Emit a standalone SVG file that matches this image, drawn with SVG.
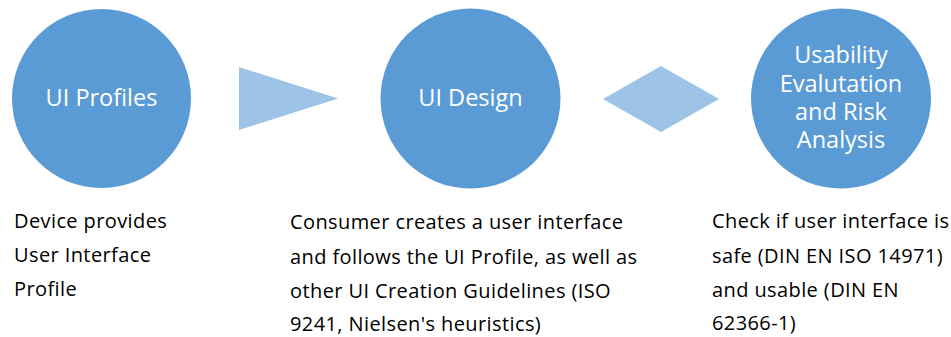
<svg xmlns="http://www.w3.org/2000/svg" width="951" height="337" viewBox="0 0 951 337">
<style>
.c{fill:#5B9BD5}
.a{fill:#9DC3E6}
.ct{font-family:"Open Sans",Lato,sans-serif;font-size:23.5px;fill:#fff;text-anchor:middle}
.bt{font-family:"Open Sans",Lato,sans-serif;font-size:20px;letter-spacing:0.4px;fill:#000}
</style>
<rect width="951" height="337" fill="#fff"/>
<g id="connectors">
<polygon class="a" points="239,67 338,98.5 239,130"/>
<polygon class="a" points="603,99 661,66 719,99 661,132"/>
</g>
<g id="n1">
<circle class="c" cx="101.5" cy="98.5" r="89.5"/>
<text class="ct" x="101.5" y="106">UI Profiles</text>
<text class="bt" x="14" y="228">Device provides</text>
<text class="bt" x="14" y="262">User Interface</text>
<text class="bt" x="14" y="296">Profile</text>
</g>
<g id="n2">
<circle class="c" cx="470.5" cy="98.5" r="90"/>
<text class="ct" x="470.5" y="106">UI Design</text>
<text class="bt" x="290" y="229">Consumer creates a user interface</text>
<text class="bt" x="290" y="264">and follows the UI Profile, as well as</text>
<text class="bt" x="290" y="298">other UI Creation Guidelines (ISO</text>
<text class="bt" x="290" y="331">9241, Nielsen's heuristics)</text>
</g>
<g id="n3">
<circle class="c" cx="841" cy="98.5" r="90"/>
<text class="ct" x="841" y="63">Usability</text>
<text class="ct" x="841" y="92">Evalutation</text>
<text class="ct" x="841" y="120">and Risk</text>
<text class="ct" x="841" y="148">Analysis</text>
<text class="bt" x="712" y="228">Check if user interface is</text>
<text class="bt" x="712" y="263">safe (DIN EN ISO 14971)</text>
<text class="bt" x="712" y="297">and usable (DIN EN</text>
<text class="bt" x="712" y="330">62366-1)</text>
</g>
</svg>
